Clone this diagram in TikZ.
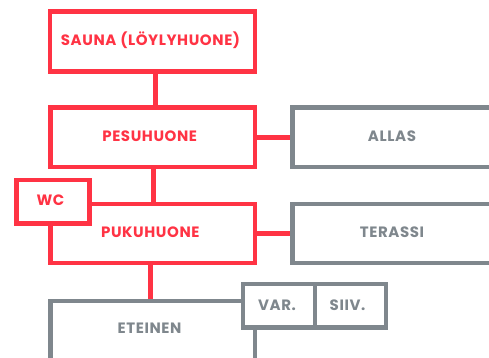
\documentclass[tikz,border=0pt]{standalone}
\usepackage{fontspec}
\setmainfont{Poppins}[UprightFont={* SemiBold}, BoldFont={* Bold}, LetterSpace=4]
\usetikzlibrary{backgrounds,calc}
\definecolor{sred}{HTML}{FF3344}
\definecolor{sgray}{HTML}{7F878D}
\tikzset{
  box/.style={draw, line width=4.8pt, fill=white, rectangle, inner sep=0pt, anchor=north west},
  redbox/.style={box, draw=sred},
  graybox/.style={box, draw=sgray},
  lbl/.style={font=\fontsize{15}{17}\selectfont\bfseries, inner sep=0pt},
  redlbl/.style={lbl, text=sred},
  graylbl/.style={lbl, text=sgray},
  redlink/.style={draw=sred, line width=4.8pt},
  graylink/.style={draw=sgray, line width=4.8pt},
}
\begin{document}
\begin{tikzpicture}[x=1pt,y=-1pt]
\useasboundingbox (0,0) rectangle (489,358);
% boxes
\node[redbox, minimum width=205pt, minimum height=59.3pt] (sauna) at (47.5,9.5) {};
\node[redlbl] (saunat) at (150.5,40.5) {SAUNA (LÖYLYHUONE)};
\node[redbox, minimum width=204.5pt, minimum height=59pt] (pesu) at (48,105.5) {};
\node[redlbl] (pesut) at (149.7,136.5) {PESUHUONE};
\node[graybox, minimum width=205pt, minimum height=59pt] (allas) at (290,105.5) {};
\node[graylbl] (allast) at (392,136.5) {ALLAS};
\node[redbox, minimum width=204.5pt, minimum height=59pt] (puku) at (48,201.5) {};
\node[redlbl] (pukut) at (150.3,232.5) {PUKUHUONE};
\node[graybox, minimum width=205pt, minimum height=59pt] (terassi) at (290,201.5) {};
\node[graylbl] (terassit) at (392,232.5) {TERASSI};
\node[redbox, minimum width=73pt, minimum height=43.5pt] (wc) at (14,177.5) {};
\node[redlbl] (wct) at (50.5,200.5) {WC};
\node[graybox, minimum width=204.5pt, minimum height=80pt] (et) at (48,298.5) {};
\node[graylbl] (ett) at (149.5,328) {ETEINEN};
\node[graybox, minimum width=72pt, minimum height=43.5pt] (var) at (240.5,281.5) {};
\node[graylbl] (vart) at (277,305.5) {VAR.};
\node[graybox, minimum width=71pt, minimum height=43.5pt] (siiv) at (312.5,281.5) {};
\node[graylbl] (siivt) at (347.5,305.5) {SIIV.};
% connectors
\begin{pgfonlayer}{background}
\draw[redlink] ([xshift=3pt]sauna.south) -- ([xshift=3pt]sauna.south |- pesu.north);
\draw[redlink] ([xshift=0.5pt]pesu.south) -- ([xshift=0.5pt]pesu.south |- puku.north);
\draw[redlink] ([xshift=-2pt]puku.south) -- ([xshift=-2pt]puku.south |- et.north);
\draw[redlink] (pesu.east) -- (pesu.east -| allas.west);
\draw[redlink] (puku.east) -- (puku.east -| terassi.west);
\end{pgfonlayer}
\end{tikzpicture}
\end{document}
